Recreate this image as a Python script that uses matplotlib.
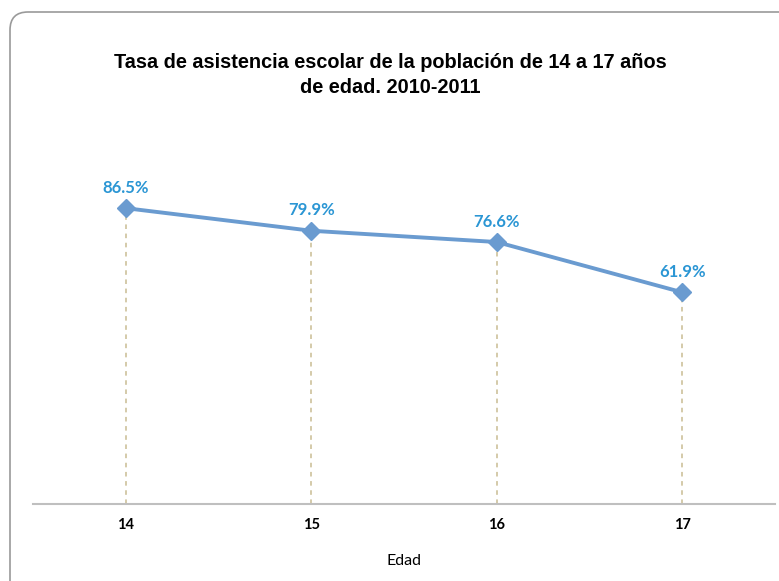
import matplotlib
matplotlib.use("Agg")
import matplotlib.pyplot as plt
from matplotlib.patches import FancyBboxPatch
from matplotlib.transforms import IdentityTransform

# data
edades = ["14", "15", "16", "17"]
tasa = [86.5, 79.9, 76.6, 61.9]
etiquetas = ["86.5%", "79.9%", "76.6%", "61.9%"]

titulo = "Tasa de asistencia escolar de la población de 14 a 17 años\nde edad. 2010-2011"

line_color = "#6A9BD0"
label_color = "#2B96D4"
drop_color = "#C9BC92"

fig = plt.figure(figsize=(7.79, 5.81), dpi=100)

# rounded chart frame (runs off the right and bottom edges)
frame = FancyBboxPatch((10, -30), 820, 599, boxstyle="round,pad=0,rounding_size=18",
                       transform=IdentityTransform(), facecolor="none",
                       edgecolor="#9A9A9A", linewidth=1.2, zorder=0)
fig.patches.append(frame)

ax = fig.add_axes([33 / 779, 77 / 581, 742 / 779, 342 / 581])
ax.set_facecolor("none")
x = list(range(len(edades)))

ax.vlines(x, 0, tasa, colors=drop_color, linestyles=(0, (3, 3)), linewidth=1.1, zorder=1)
ax.plot(x, tasa, color=line_color, linewidth=2.8, marker="D", markersize=9.5,
        markerfacecolor=line_color, markeredgecolor=line_color, zorder=3)

for xi, yi, lab in zip(x, tasa, etiquetas):
    ax.annotate(lab, (xi, yi), xytext=(0, 9), textcoords="offset points",
                ha="center", va="bottom", color=label_color, fontsize=12,
                fontweight="bold", family="Lato")

ax.set_xlim(-0.5, 3.5)
ax.set_ylim(0, 100)
ax.set_xticks(x)
ax.set_xticklabels(edades, fontsize=10.5, fontweight="bold", family="Lato")
ax.tick_params(axis="x", length=0, pad=10)
ax.set_yticks([])
for side in ["left", "right", "top"]:
    ax.spines[side].set_visible(False)
ax.spines["bottom"].set_color("#BFBFBF")
ax.spines["bottom"].set_linewidth(1.5)
ax.set_xlabel("Edad", fontsize=11.5, family="Lato", labelpad=16)

fig.text(390 / 779, 1 - 75 / 581, titulo, ha="center", va="center", fontsize=14.3,
         fontweight="bold", family="Liberation Sans", linespacing=1.4)

fig.savefig("out.png", dpi=100)
